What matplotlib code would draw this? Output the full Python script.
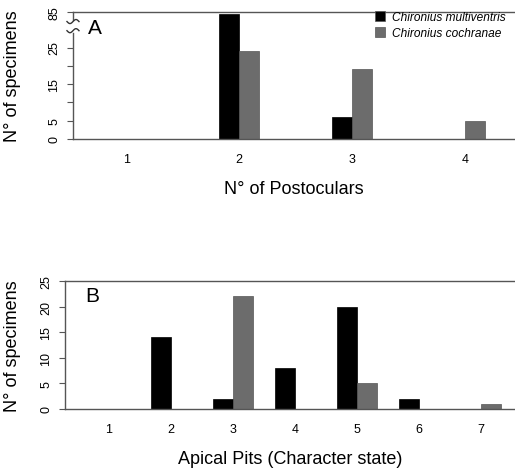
import matplotlib
matplotlib.use("Agg")
import matplotlib.pyplot as plt
from matplotlib.patches import Patch
import numpy as np

plt.rcParams['font.family'] = ['Liberation Sans', 'DejaVu Sans']

# Panel A: postoculars
postoculars = [1, 2, 3, 4]
post_multiventris = [0, 81, 6, 0]
post_cochranae = [0, 24, 19, 5]

# Panel B: apical pits
apical = [1, 2, 3, 4, 5, 6, 7]
apical_multiventris = [0, 14, 2, 8, 20, 2, 0]
apical_cochranae = [0, 0, 22, 0, 5, 0, 1]

species = ["Chironius multiventris", "Chironius cochranae"]
colors = ["black", "#6c6c6c"]

# broken axis in panel A: values above 25 are squeezed
BREAK_LOW = 25
BREAK_TOP_VAL = 85
BREAK_TOP_POS = 34.7


def squeeze(v):
    v = np.asarray(v, dtype=float)
    scale = (BREAK_TOP_POS - BREAK_LOW) / (BREAK_TOP_VAL - BREAK_LOW)
    return np.where(v > BREAK_LOW, BREAK_LOW + (v - BREAK_LOW) * scale, v)


fig = plt.figure(figsize=(5.15, 4.77), dpi=100)

# ---- Panel A ----
axA = fig.add_axes([0.1417, 0.7065, 0.8583, 0.2662])
w = 0.177
x = np.array(postoculars, dtype=float)
axA.bar(x - w, squeeze(post_multiventris), width=w, align='edge', color=colors[0], edgecolor=colors[0], linewidth=0.5)
axA.bar(x, squeeze(post_cochranae), width=w, align='edge', color=colors[1], edgecolor='#555555', linewidth=0.5)
axA.set_xlim(0.53, 4.44)
axA.set_ylim(0, BREAK_TOP_POS)
axA.set_yticks([0, 5, 10, 15, 20, 25, BREAK_TOP_POS])
axA.set_yticklabels(["0", "5", "", "15", "", "25", "85"], rotation=90, va='center')
axA.set_xticks(postoculars)
axA.set_xticklabels([str(p) for p in postoculars])
axA.set_xlabel("N° of Postoculars", fontsize=13, labelpad=11)
axA.set_ylabel("N° of specimens", fontsize=13)
axA.yaxis.set_label_coords(-0.118, 0.5)
axA.spines['right'].set_visible(False)
axA.spines['left'].set_bounds(0, 29.0)
axA.plot([0.53, 0.53], [32.6, BREAK_TOP_POS], color='#555555', lw=1.0, clip_on=False)
# the two wavy break marks on the y axis
t = np.linspace(-1, 1, 30)
for yy in [29.6, 32.1]:
    axA.plot(0.53 + t * 6 / 113, yy + 0.55 * np.sin(np.pi * t), color='#333333', lw=1.0, clip_on=False)
axA.text(0.66, 30.4, "A", fontsize=15, ha='left', va='center')
axA.legend(handles=[Patch(facecolor=c, edgecolor='#555555', linewidth=0.5) for c in colors], labels=species,
           loc='upper left', bbox_to_anchor=(0.718, 0.985), bbox_transform=fig.transFigure,
           frameon=False, prop={'style': 'italic', 'size': 8.6},
           handlelength=0.9, handleheight=0.9, handletextpad=0.55, labelspacing=0.3, borderaxespad=0)

# ---- Panel B ----
axB = fig.add_axes([0.1262, 0.1405, 0.8738, 0.2683])
w = 0.323
x = np.array(apical, dtype=float)
axB.bar(x - w, apical_multiventris, width=w, align='edge', color=colors[0], edgecolor=colors[0], linewidth=0.5)
axB.bar(x, apical_cochranae, width=w, align='edge', color=colors[1], edgecolor='#555555', linewidth=0.5)
axB.set_xlim(0.29, 7.55)
axB.set_ylim(0, 25)
axB.set_yticks([0, 5, 10, 15, 20, 25])
axB.set_yticklabels(["0", "5", "10", "15", "20", "25"], rotation=90, va='center')
axB.set_xticks(apical)
axB.set_xticklabels([str(a) for a in apical])
axB.set_xlabel("Apical Pits (Character state)", fontsize=13, labelpad=11)
axB.set_ylabel("N° of specimens", fontsize=13)
axB.yaxis.set_label_coords(-0.098, 0.5)
axB.spines['right'].set_visible(False)
axB.text(0.62, 22.1, "B", fontsize=15, ha='left', va='center')

for ax in (axA, axB):
    for s in ['top', 'bottom', 'left']:
        ax.spines[s].set_color('#555555')
        ax.spines[s].set_linewidth(1.0)
    ax.tick_params(axis='y', length=4, width=0.8, color='#555555', labelsize=9, pad=5)
    ax.tick_params(axis='x', length=0, labelsize=9, pad=10)

fig.savefig("out.png", dpi=100)
